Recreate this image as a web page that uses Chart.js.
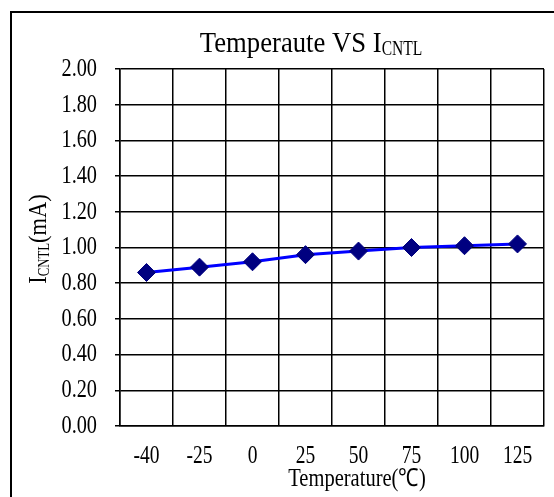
<!DOCTYPE html>
<html><head><meta charset="utf-8">
<script src="https://cdn.jsdelivr.net/npm/chart.js@4.4.1/dist/chart.umd.min.js"></script>
<style>html,body{margin:0;padding:0;background:#fff;}#wrap{position:relative;width:554px;height:497px;}</style>
</head><body><div id="wrap"><canvas id="c" width="554" height="497"></canvas></div>
<script>
const categories = ['-40', '-25', '0', '25', '50', '75', '100', '125'];
const currentMA = [0.86, 0.89, 0.92, 0.96, 0.98, 1.00, 1.01, 1.02];
const yMin = 0, yMax = 2, yStep = 0.2;
const titleMain = 'Temperaute VS I';
const titleSub = 'CNTL';
const yTitleMain = 'I', yTitleSub = 'CNTL', yTitleTail = '(mA)';
const xTitle = 'Temperature(℃)';

const FONT = '"Liberation Serif", "Times New Roman", serif';
let tickSX = 1;

function drawRich(ctx, segs, cx, baseline) {
  let total = 0;
  segs.forEach(s => { ctx.font = s.size + 'px ' + FONT; s.w = ctx.measureText(s.text).width * (s.sx || 1); total += s.w; });
  let x = cx - total / 2;
  ctx.textAlign = 'left';
  ctx.textBaseline = 'alphabetic';
  segs.forEach(s => {
    ctx.save();
    ctx.font = s.size + 'px ' + FONT;
    ctx.translate(x, baseline + (s.dy || 0));
    ctx.scale(s.sx || 1, 1);
    ctx.fillText(s.text, 0, 0);
    ctx.restore();
    x += s.w;
  });
}

const decor = {
  id: 'decor',
  beforeInit(chart) {
    const ctx = chart.ctx;
    const orig = ctx.fillText.bind(ctx);
    ctx.fillText = function (t, x, y, mw) {
      if (tickSX === 1) return orig(t, x, y, mw);
      ctx.save();
      ctx.translate(x, y);
      ctx.scale(tickSX, 1);
      orig(t, 0, 0);
      ctx.restore();
    };
  },
  beforeDraw(chart) {
    const ctx = chart.ctx;
    ctx.save();
    ctx.fillStyle = '#fff';
    ctx.fillRect(0, 0, chart.width, chart.height);
    ctx.strokeStyle = '#000';
    ctx.lineWidth = 2;
    ctx.strokeRect(11, 12, chart.width + 20, chart.height + 20);
    ctx.restore();
    tickSX = 0.78;
  },
  beforeDatasetsDraw() { tickSX = 1; },
  afterDraw(chart) {
    tickSX = 1;
    const ctx = chart.ctx;
    ctx.save();
    ctx.fillStyle = '#000';
    drawRich(ctx, [{text: titleMain, size: 29, sx: 0.92}, {text: titleSub, size: 21, sx: 0.74, dy: 3}], 311, 52);
    drawRich(ctx, [{text: xTitle, size: 25, sx: 0.82}], 357, 486);
    ctx.translate(46, 239);
    ctx.rotate(-Math.PI / 2);
    drawRich(ctx, [{text: yTitleMain, size: 25, sx: 0.9}, {text: yTitleSub, size: 16, sx: 0.8, dy: 3}, {text: yTitleTail, size: 25, sx: 0.9}], 0, 0);
    ctx.restore();
  }
};

new Chart(document.getElementById('c'), {
  type: 'line',
  data: {
    labels: categories,
    datasets: [{
      data: currentMA,
      borderColor: '#0000FF',
      borderWidth: 3,
      pointStyle: 'rectRot',
      pointRadius: 9,
      pointBackgroundColor: '#000080',
      pointBorderColor: '#000080',
      pointBorderWidth: 1,
      tension: 0,
      clip: false
    }]
  },
  options: {
    responsive: false,
    animation: false,
    devicePixelRatio: 1,
    layout: {padding: {top: 69, left: 0, right: 6, bottom: 0}},
    plugins: {legend: {display: false}, title: {display: false}, tooltip: {enabled: false}},
    scales: {
      x: {
        type: 'category',
        offset: true,
        afterFit(s) { s.height = 71; },
        grid: {offset: true, color: '#000', lineWidth: 1.5, drawTicks: false},
        border: {display: true, color: '#000', width: 1.5},
        ticks: {color: '#000', padding: 15, font: {family: FONT, size: 25}, maxRotation: 0, autoSkip: false}
      },
      y: {
        min: yMin, max: yMax,
        afterFit(s) { s.width = 120; },
        grid: {color: '#000', lineWidth: 1.5, drawTicks: true, tickLength: 5},
        border: {display: true, color: '#000', width: 1.5},
        ticks: {stepSize: yStep, color: '#000', padding: 18, font: {family: FONT, size: 26},
          callback: v => Number(v).toFixed(2)}
      }
    }
  },
  plugins: [decor]
});
</script></body></html>
